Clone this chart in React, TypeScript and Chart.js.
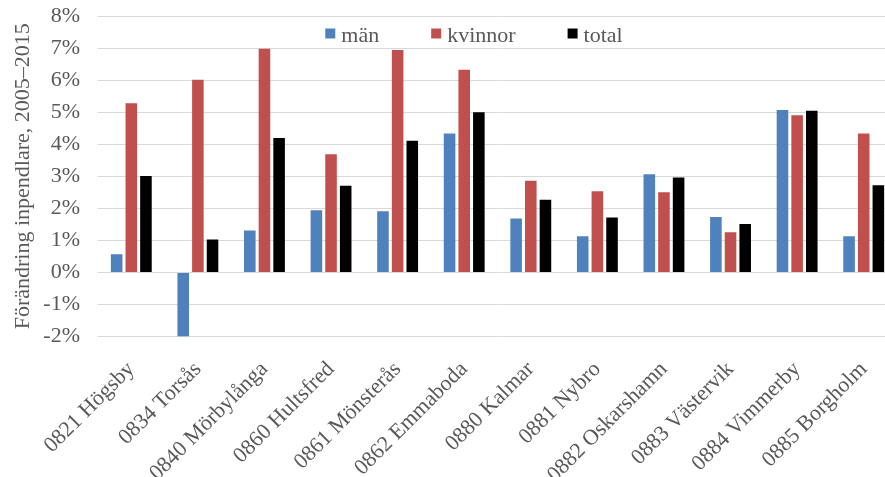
import React, { useEffect, useRef } from "react";
import { Chart, registerables } from "chart.js";

Chart.register(...registerables);

const categories = [
  "0821 Högsby",
  "0834 Torsås",
  "0840 Mörbylånga",
  "0860 Hultsfred",
  "0861 Mönsterås",
  "0862 Emmaboda",
  "0880 Kalmar",
  "0881 Nybro",
  "0882 Oskarshamn",
  "0883 Västervik",
  "0884 Vimmerby",
  "0885 Borgholm",
];

const man = [0.57, -2.0, 1.31, 1.94, 1.91, 4.33, 1.68, 1.13, 3.06, 1.73, 5.07, 1.13];
const kvinnor = [5.28, 6.01, 6.98, 3.69, 6.94, 6.32, 2.86, 2.53, 2.5, 1.25, 4.9, 4.33];
const total = [3.01, 1.03, 4.19, 2.7, 4.11, 5.0, 2.27, 1.71, 2.96, 1.51, 5.04, 2.72];

const seriesLabels = ["män", "kvinnor", "total"];
const seriesColors = ["#4F81BD", "#C0504D", "#000000"];

const FONT_FAMILY = "'Liberation Serif', 'Times New Roman', serif";
const TEXT_COLOR = "#595959";

const legendPlugin = {
  id: "customLegend",
  afterDraw(chart: any) {
    const ctx = chart.ctx;
    ctx.save();
    ctx.font = `22px ${FONT_FAMILY}`;
    const box = 10;
    const gap = 6;
    const spacing = 52;
    const items = chart.data.datasets.map((ds: any) => ({
      label: ds.label,
      color: ds.backgroundColor,
      w: ctx.measureText(ds.label).width,
    }));
    const totalW =
      items.reduce((s: number, it: any) => s + box + gap + it.w, 0) +
      spacing * (items.length - 1);
    let x = 474 - totalW / 2;
    const baseline = 41.5;
    for (const it of items) {
      ctx.fillStyle = it.color;
      ctx.fillRect(x, 28.5, box, box);
      x += box + gap;
      ctx.fillStyle = TEXT_COLOR;
      ctx.textBaseline = "alphabetic";
      ctx.textAlign = "left";
      ctx.fillText(it.label, x, baseline);
      x += it.w + spacing;
    }
    ctx.restore();
  },
};

export default function App() {
  const canvasRef = useRef<HTMLCanvasElement | null>(null);

  useEffect(() => {
    if (!canvasRef.current) return;
    const seriesData = [man, kvinnor, total];
    const chart = new Chart(canvasRef.current, {
      type: "bar",
      data: {
        labels: categories,
        datasets: seriesData.map((d, i) => ({
          label: seriesLabels[i],
          data: d,
          backgroundColor: seriesColors[i],
          borderWidth: 0,
          barPercentage: 0.79,
          categoryPercentage: 0.66,
        })),
      },
      options: {
        responsive: false,
        animation: false,
        devicePixelRatio: 1,
        layout: { padding: { left: 0, top: 16, right: 1, bottom: 0 } },
        plugins: {
          legend: { display: false },
          tooltip: { enabled: false },
          title: { display: false },
        },
        scales: {
          x: {
            grid: { display: false },
            border: { display: false },
            afterFit: (s: any) => {
              s.height = 140.5;
              s.paddingLeft = 0;
              s.paddingRight = 0;
            },
            ticks: {
              autoSkip: false,
              maxRotation: 45,
              minRotation: 45,
              padding: 12,
              color: TEXT_COLOR,
              font: { family: FONT_FAMILY, size: 22 },
            },
          },
          y: {
            min: -2,
            max: 8,
            afterFit: (s: any) => {
              s.width = 98;
              s.paddingTop = 0;
              s.paddingBottom = 0;
            },
            ticks: {
              stepSize: 1,
              padding: 18,
              color: TEXT_COLOR,
              font: { family: FONT_FAMILY, size: 22 },
              callback: (v: any) => `${v}%`,
            },
            grid: { color: "#d9d9d9", lineWidth: 1, drawTicks: false },
            border: { display: false },
            title: {
              display: true,
              text: "Förändring inpendlare, 2005–2015",
              color: TEXT_COLOR,
              font: { family: FONT_FAMILY, size: 22 },
              padding: { top: 10, bottom: 4 },
            },
          },
        },
      },
      plugins: [legendPlugin],
    });
    return () => chart.destroy();
  }, []);

  return (
    <div
      style={{
        position: "fixed",
        left: 0,
        top: 0,
        width: 885,
        height: 477,
        overflow: "hidden",
        background: "#ffffff",
      }}
    >
      <canvas
        ref={canvasRef}
        width={898}
        height={477}
        style={{ display: "block", width: 898, height: 477 }}
      />
    </div>
  );
}
